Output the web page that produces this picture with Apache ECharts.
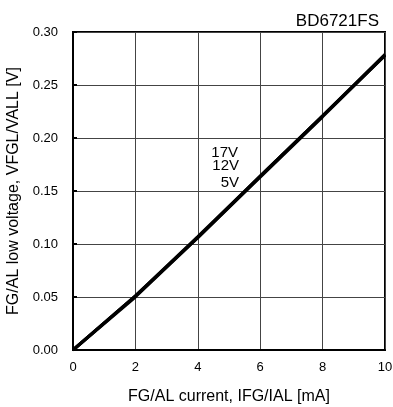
<!DOCTYPE html>
<html>
<head>
<meta charset="utf-8">
<script src="https://cdn.jsdelivr.net/npm/echarts@6/dist/echarts.min.js"></script>
<style>
  html, body { margin: 0; padding: 0; background: #fff; }
  #chart { width: 393px; height: 407px; }
</style>
</head>
<body>
<div id="chart"></div>
<script>
// FG/AL current [mA]
var current = [0, 2, 4, 6, 8, 10];
// low voltage [V] per supply voltage (curves overlap)
var v17 = [0, 0.051, 0.107, 0.164, 0.221, 0.279];
var v12 = [0, 0.051, 0.106, 0.164, 0.221, 0.278];
var v5  = [0, 0.050, 0.106, 0.163, 0.220, 0.278];
var seriesNames = ['17V', '12V', '5V'];

var font = 'Liberation Sans, Arial, sans-serif';

function pairs(ys) {
	return current.map(function (x, i) { return [x, ys[i]]; });
}

var chart = echarts.init(document.getElementById('chart'));

var lineSeries = [v17, v12, v5].map(function (ys, k) {
	return {
		name: seriesNames[k],
		type: 'line',
		data: pairs(ys),
		showSymbol: false,
		lineStyle: { color: '#000', width: 3 },
		z: 5
	};
});

var option = {
	animation: false,
	backgroundColor: '#fff',
	title: {
		text: 'BD6721FS',
		right: 9,
		top: 8,
		textStyle: { fontFamily: font, fontSize: 17, fontWeight: 'normal', color: '#000' }
	},
	grid: {
		left: 73,
		right: 8,
		top: 32,
		bottom: 57,
		outerBoundsMode: 'none',
		show: true,
		borderColor: '#000',
		borderWidth: 2,
		backgroundColor: 'transparent'
	},
	xAxis: {
		type: 'value',
		min: 0,
		max: 10,
		interval: 2,
		name: 'FG/AL current, IFG/IAL [mA]',
		nameLocation: 'middle',
		nameGap: 39,
		nameTextStyle: { fontFamily: font, fontSize: 16, color: '#000' },
		axisLine: { show: true, lineStyle: { color: '#000', width: 2 } },
		axisTick: { show: false },
		axisLabel: { fontFamily: font, fontSize: 13, color: '#000', margin: 11 },
		splitLine: { show: true, lineStyle: { color: '#444', width: 1 } }
	},
	yAxis: {
		type: 'value',
		min: 0,
		max: 0.3,
		interval: 0.05,
		name: 'FG/AL low voltage, VFGL/VALL [V]',
		nameLocation: 'middle',
		nameGap: 47,
		nameTextStyle: { fontFamily: font, fontSize: 16, color: '#000' },
		axisLine: { show: true, lineStyle: { color: '#000', width: 2 } },
		axisTick: { show: true, inside: true, length: 4, lineStyle: { color: '#000', width: 2 } },
		axisLabel: {
			fontFamily: font, fontSize: 13, color: '#000', margin: 15,
			formatter: function (v) { return v.toFixed(2); }
		},
		splitLine: { show: true, lineStyle: { color: '#444', width: 1 } }
	},
	graphic: [
		{ type: 'text', right: 393 - 238, top: 145, style: { text: '17V', font: '15px ' + font, fill: '#000' } },
		{ type: 'text', right: 393 - 239, top: 158, style: { text: '12V', font: '15px ' + font, fill: '#000' } },
		{ type: 'text', right: 393 - 239, top: 175, style: { text: '5V', font: '15px ' + font, fill: '#000' } }
	],
	series: lineSeries
};

chart.setOption(option);
</script>
</body>
</html>
